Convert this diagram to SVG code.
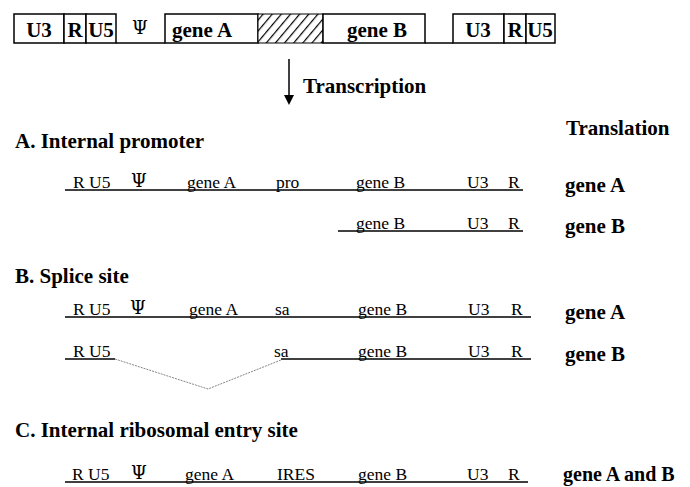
<svg xmlns="http://www.w3.org/2000/svg" width="690" height="487" viewBox="0 0 690 487">
<defs>
<pattern id="hatch" patternUnits="userSpaceOnUse" width="7" height="7" patternTransform="rotate(40)">
<rect width="7" height="7" fill="#fff"/>
<line x1="0" y1="0" x2="0" y2="7" stroke="#000" stroke-width="2.4"/>
</pattern>
</defs>
<style>
.box{fill:#fff;stroke:#000;stroke-width:1.5}
.bt{font-family:"Liberation Serif","Times New Roman",serif;font-weight:bold;font-size:21px;fill:#000}
.rt{font-family:"Liberation Serif","Times New Roman",serif;font-size:17.5px;fill:#000}
.psi{font-family:"DejaVu Serif","Liberation Serif",serif;font-size:18px;fill:#000}
.ln{stroke:#000;stroke-width:1.5;fill:none}
.sp{stroke:#777;stroke-width:0.9;fill:none;stroke-dasharray:2 1}
</style>
<rect width="690" height="487" fill="#fff"/>

<g id="provirus">
<line class="ln" x1="116" y1="43" x2="165" y2="43"/>
<line class="ln" x1="425" y1="43" x2="453" y2="43"/>
<rect class="box" x="14" y="14" width="50" height="29"/>
<rect class="box" x="64" y="14" width="22" height="29"/>
<rect class="box" x="86" y="14" width="30" height="29"/>
<rect class="box" x="165" y="14" width="93" height="29"/>
<rect x="258" y="14" width="65" height="29" fill="url(#hatch)" stroke="#000" stroke-width="1"/>
<rect class="box" x="323" y="14" width="102" height="29"/>
<rect class="box" x="453" y="14" width="51" height="29"/>
<rect class="box" x="504" y="14" width="22" height="29"/>
<rect class="box" x="526" y="14" width="29" height="29"/>
<text class="bt" x="39" y="37" text-anchor="middle">U3</text>
<text class="bt" x="75" y="37" text-anchor="middle">R</text>
<text class="bt" x="101" y="37" text-anchor="middle">U5</text>
<text class="psi" x="140" y="34" text-anchor="middle">Ψ</text>
<text class="bt" x="172" y="37">gene A</text>
<text class="bt" x="347" y="37">gene B</text>
<text class="bt" x="478" y="37" text-anchor="middle">U3</text>
<text class="bt" x="515" y="37" text-anchor="middle">R</text>
<text class="bt" x="540" y="37" text-anchor="middle">U5</text>
</g>

<g id="transcription">
<line class="ln" x1="289" y1="59" x2="289" y2="96"/>
<polygon points="284,95 294,95 289,105" fill="#000"/>
<text class="bt" x="303" y="93">Transcription</text>
</g>

<g id="translation-header">
<text class="bt" x="566" y="135">Translation</text>
</g>

<g id="sectionA">
<text class="bt" x="15" y="148">A. Internal promoter</text>
</g>

<g id="connectors">
<line class="ln" x1="65" y1="190" x2="523" y2="190"/>
<line class="ln" x1="338" y1="231" x2="523" y2="231"/>
<line class="ln" x1="65" y1="317" x2="531" y2="317"/>
<line class="ln" x1="65" y1="359" x2="115" y2="359"/>
<polyline class="sp" points="115,359 208,389 281,360"/>
<line class="ln" x1="281" y1="359" x2="531" y2="359"/>
<line class="ln" x1="65" y1="482" x2="528" y2="482"/>
</g>

<g id="rowA1">
<text class="rt" x="73" y="188">R U5</text>
<text class="psi" x="131" y="187">Ψ</text>
<text class="rt" x="187" y="188">gene A</text>
<text class="rt" x="276" y="188">pro</text>
<text class="rt" x="356" y="188">gene B</text>
<text class="rt" x="467" y="188">U3</text>
<text class="rt" x="508" y="188">R</text>
<text class="bt" x="565" y="192">gene A</text>
</g>

<g id="rowA2">
<text class="rt" x="356" y="229">gene B</text>
<text class="rt" x="467" y="229">U3</text>
<text class="rt" x="508" y="229">R</text>
<text class="bt" x="565" y="233">gene B</text>
</g>

<g id="sectionB">
<text class="bt" x="15" y="283">B. Splice site</text>
</g>

<g id="rowB1">
<text class="rt" x="73" y="315">R U5</text>
<text class="psi" x="130" y="314">Ψ</text>
<text class="rt" x="189" y="315">gene A</text>
<text class="rt" x="275" y="315">sa</text>
<text class="rt" x="358" y="315">gene B</text>
<text class="rt" x="468" y="315">U3</text>
<text class="rt" x="511" y="315">R</text>
<text class="bt" x="565" y="319">gene A</text>
</g>

<g id="rowB2">
<text class="rt" x="73" y="357">R U5</text>
<text class="rt" x="274" y="357">sa</text>
<text class="rt" x="358" y="357">gene B</text>
<text class="rt" x="468" y="357">U3</text>
<text class="rt" x="511" y="357">R</text>
<text class="bt" x="565" y="361">gene B</text>
</g>

<g id="sectionC">
<text class="bt" x="15" y="437">C. Internal ribosomal entry site</text>
</g>

<g id="rowC">
<text class="rt" x="72" y="480">R U5</text>
<text class="psi" x="131" y="479">Ψ</text>
<text class="rt" x="185" y="480">gene A</text>
<text class="rt" x="277" y="480">IRES</text>
<text class="rt" x="358" y="480">gene B</text>
<text class="rt" x="467" y="480">U3</text>
<text class="rt" x="508" y="480">R</text>
<text class="bt" x="563" y="481" style="font-size:20px">gene A and B</text>
</g>
</svg>
